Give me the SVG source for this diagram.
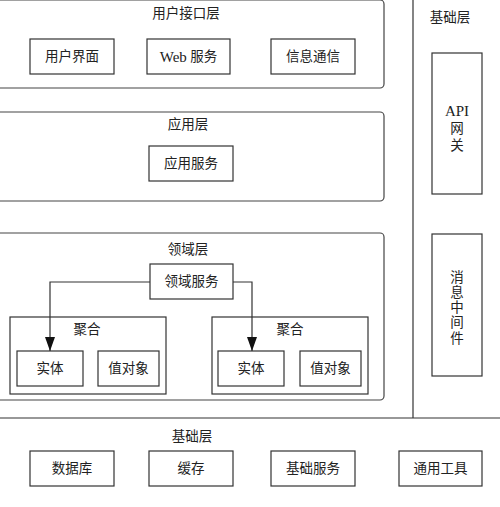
<svg xmlns="http://www.w3.org/2000/svg" width="500" height="507" viewBox="0 0 500 507">
<defs>
<style>
.panel{fill:#fff;stroke:#444;stroke-width:1.2}
.box{fill:#fff;stroke:#333;stroke-width:1.2}
.line{fill:none;stroke:#333;stroke-width:1.2}
text{font-family:"Liberation Serif","Noto Sans CJK SC",serif;font-size:13.5px;fill:#222;text-anchor:middle;dominant-baseline:central}
.lat{font-size:15px}
</style>
<marker id="arr" markerWidth="14" markerHeight="10" refX="14" refY="5" orient="auto" markerUnits="userSpaceOnUse" viewBox="0 0 14 10">
<path d="M0,0 L14,5 L0,10 Z" fill="#111"/>
</marker>
</defs>
<rect width="500" height="507" fill="#fff"/>

<g id="frame">
<line class="line" x1="413" y1="0" x2="413" y2="418"/>
<line class="line" x1="0" y1="418" x2="500" y2="418"/>
</g>

<g id="user-layer">
<rect class="panel" x="-6" y="0" width="390" height="88" rx="4"/>
<text x="186" y="13">用户接口层</text>
</g>
<g id="ui"><rect class="box" x="30" y="39" width="84" height="35"/><text x="72" y="56.5">用户界面</text></g>
<g id="web"><rect class="box" x="147" y="39" width="83" height="35"/><text x="188.5" y="56.5"><tspan class="lat">Web</tspan> 服务</text></g>
<g id="msg"><rect class="box" x="271" y="39" width="84" height="35"/><text x="313" y="56.5">信息通信</text></g>

<g id="app-layer">
<rect class="panel" x="-6" y="112" width="390" height="89" rx="4"/>
<text x="188" y="124">应用层</text>
</g>
<g id="app-service"><rect class="box" x="149" y="146" width="84" height="35"/><text x="191" y="163.5">应用服务</text></g>

<g id="domain-layer">
<rect class="panel" x="-6" y="233" width="390" height="167" rx="4"/>
<text x="188" y="249">领域层</text>
</g>
<g id="domain-service"><rect class="box" x="150" y="264" width="83" height="35"/><text x="191.5" y="281.5">领域服务</text></g>

<g id="agg1"><rect class="box" x="10" y="317" width="156" height="77"/><text x="87" y="329">聚合</text></g>
<g id="entity1"><rect class="box" x="17" y="351" width="66" height="35"/><text x="50" y="368.5">实体</text></g>
<g id="vo1"><rect class="box" x="98" y="351" width="61" height="35"/><text x="128.5" y="368.5">值对象</text></g>

<g id="agg2"><rect class="box" x="212" y="317" width="156" height="77"/><text x="290" y="329">聚合</text></g>
<g id="entity2"><rect class="box" x="218" y="351" width="66" height="35"/><text x="251" y="368.5">实体</text></g>
<g id="vo2"><rect class="box" x="300" y="351" width="61" height="35"/><text x="330.5" y="368.5">值对象</text></g>

<g id="infra-right">
<text x="450" y="17">基础层</text>
</g>
<g id="api-gateway"><rect class="box" x="432" y="53" width="50" height="141"/>
<text x="457" y="111" class="lat">API</text><text x="457" y="128">网</text><text x="457" y="145">关</text></g>
<g id="mq"><rect class="box" x="432" y="234" width="50" height="142"/>
<text x="457" y="277">消</text><text x="457" y="292">息</text><text x="457" y="307">中</text><text x="457" y="322">间</text><text x="457" y="338">件</text></g>

<g id="infra-layer"><text x="192" y="436">基础层</text></g>
<g id="db"><rect class="box" x="30" y="451" width="84" height="35"/><text x="72" y="468.5">数据库</text></g>
<g id="cache"><rect class="box" x="149" y="451" width="84" height="35"/><text x="191" y="468.5">缓存</text></g>
<g id="base-service"><rect class="box" x="271" y="451" width="84" height="35"/><text x="313" y="468.5">基础服务</text></g>
<g id="tools"><rect class="box" x="399" y="451" width="83" height="35"/><text x="440.5" y="468.5">通用工具</text></g>

<g id="connectors">
<path class="line" d="M150,282 H50 V351" marker-end="url(#arr)"/>
<path class="line" d="M233,282 H252 V351" marker-end="url(#arr)"/>
</g>
</svg>
